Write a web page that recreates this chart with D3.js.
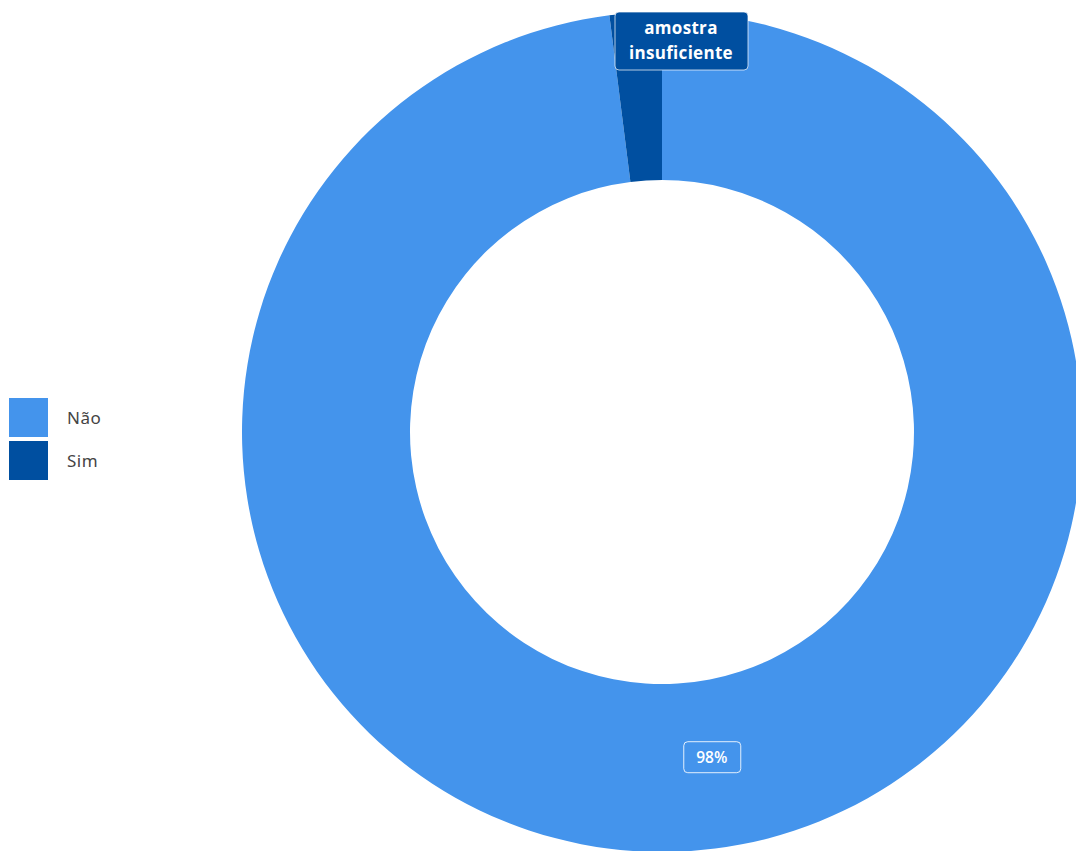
<!DOCTYPE html>
<html><head><meta charset="utf-8">
<script src="https://cdn.jsdelivr.net/npm/d3@7"></script>
<style>body{margin:0;background:#fff;}svg{display:block;}</style>
</head><body>
<svg id="c" width="1076" height="851"></svg>
<script>
const categories = ["Não", "Sim"];
const values = [98, 2];
const colors = ["#4494ec", "#004fa0"];
const sliceLabels = ["98%", "amostra\ninsuficiente"];

const svg = d3.select("#c");
const cx = 662, cy = 432, R = 420, r = 252;

const pie = d3.pie().sort(null).value(d => d.v);
const data = pie(categories.map((c, i) => ({c, v: values[i], i})));
const arc = d3.arc().innerRadius(r).outerRadius(R);
const color = d3.scaleOrdinal().domain(categories).range(colors);

const g = svg.append("g").attr("transform", `translate(${cx},${cy})`);
g.selectAll("path").data(data).join("path")
  .attr("d", arc).attr("fill", d => color(d.data.c));

// Não label
{
  const a = Math.PI * (171.3 / 180), rr = 329;
  const lx = rr * Math.sin(a), ly = -rr * Math.cos(a);
  const lg = g.append("g").attr("transform", `translate(${lx},${ly})`);
  lg.append("text").attr("text-anchor", "middle").attr("dy", "0.35em")
    .attr("font-family", "Open Sans, sans-serif").attr("font-weight", 600)
    .attr("font-size", 15.5).attr("fill", "#fff").text(sliceLabels[0]);
  lg.insert("rect", "text").attr("x", -28).attr("y", -15.5).attr("width", 57)
    .attr("height", 31).attr("rx", 4).attr("fill", "none")
    .attr("stroke", "rgba(255,255,255,0.85)").attr("stroke-width", 1);
}

// Sim label (callout at top)
{
  const lg = svg.append("g").attr("transform", `translate(681,41)`);
  const lines = sliceLabels[1].split("\n");
  lg.append("rect").attr("x", -66).attr("y", -29).attr("width", 133).attr("height", 58)
    .attr("rx", 4).attr("fill", colors[1]).attr("stroke", "rgba(255,255,255,0.7)").attr("stroke-width", 1);
  lg.selectAll("text").data(lines).join("text")
    .attr("text-anchor", "middle").attr("y", (d, i) => -13 + i * 25).attr("dy", "0.35em")
    .attr("font-family", "Open Sans, sans-serif").attr("font-weight", 700)
    .attr("font-size", 17).attr("letter-spacing", 0.3).attr("fill", "#fff").text(d => d);
}

// Legend
const leg = svg.append("g").attr("transform", "translate(9,398)");
const li = leg.selectAll("g").data(categories).join("g")
  .attr("transform", (d, i) => `translate(0,${i * 43})`);
li.append("rect").attr("width", 39).attr("height", 39).attr("fill", d => color(d));
li.append("text").attr("x", 58).attr("y", 20).attr("dy", "0.35em")
  .attr("font-family", "Noto Sans, sans-serif").attr("font-size", 17)
  .attr("letter-spacing", 0.5)
  .attr("fill", "#444").text(d => d);
</script>
</body></html>
